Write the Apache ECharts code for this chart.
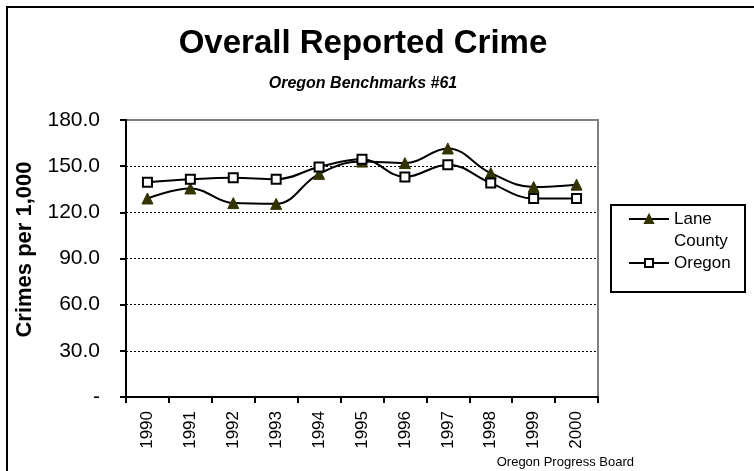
<!DOCTYPE html>
<html>
<head>
<meta charset="utf-8">
<script src="https://cdn.jsdelivr.net/npm/echarts@6/dist/echarts.min.js"></script>
<style>
html,body{margin:0;padding:0;background:#fff;}
#chart{width:754px;height:471px;}
</style>
</head>
<body>
<div id="chart"></div>
<script>
const years = ['1990','1991','1992','1993','1994','1995','1996','1997','1998','1999','2000'];
const laneCounty = [129, 135.5, 126, 125.5, 145, 153, 152, 161.5, 145.5, 136.5, 138];
const oregon = [139.5, 141.5, 142.5, 141.5, 149.5, 154.5, 143, 151, 139, 129, 129];
const yMin = 0, yMax = 180, yStep = 30;
const titleText = 'Overall Reported Crime';
const subtitleText = 'Oregon Benchmarks #61';
const yAxisName = 'Crimes per 1,000';
const sourceText = 'Oregon Progress Board';

const FONT = '"Liberation Sans", Arial, Helvetica, sans-serif';
const chart = echarts.init(document.getElementById('chart'), null, {renderer: 'canvas'});

chart.setOption({
  animation: false,
  backgroundColor: '#ffffff',
  graphic: [
    {type: 'rect', shape: {x: 7, y: 7, width: 800, height: 500},
     style: {fill: 'none', stroke: '#000', lineWidth: 2}, z: 0},
    {type: 'text', x: 363, y: 44, style: {text: titleText, font: 'bold 33px ' + FONT, fill: '#000', textAlign: 'center', textVerticalAlign: 'middle'}},
    {type: 'text', x: 363, y: 84, style: {text: subtitleText, font: 'italic bold 16px ' + FONT, fill: '#000', textAlign: 'center', textVerticalAlign: 'middle'}},
    {type: 'text', x: 634, y: 462, style: {text: sourceText, font: '13px ' + FONT, fill: '#000', textAlign: 'right', textVerticalAlign: 'middle'}},
    {type: 'rect', shape: {x: 611, y: 205, width: 134, height: 87},
     style: {fill: '#fff', stroke: '#000', lineWidth: 2}, z: 1}
  ],
  grid: {
    left: 126, right: 156, top: 120, bottom: 74,
    show: true, backgroundColor: '#fff', borderColor: '#808080', borderWidth: 2
  },
  legend: {
    orient: 'vertical',
    left: 628, top: 186,
    itemWidth: 40, itemHeight: 10, itemGap: 0,
    padding: 0,
    z: 5,
    textStyle: {fontFamily: FONT, fontSize: 17, color: '#000', lineHeight: 22},
    formatter: function (n) { return n === 'Lane County' ? ' \nLane\nCounty' : n; },
    data: ['Lane County', 'Oregon']
  },
  xAxis: {
    type: 'category',
    data: years,
    boundaryGap: true,
    axisLine: {lineStyle: {color: '#000', width: 2}},
    axisTick: {show: true, length: 6, lineStyle: {color: '#000', width: 2}},
    axisLabel: {rotate: 90, margin: 14, fontFamily: FONT, fontSize: 17, color: '#000'},
    splitLine: {show: false}
  },
  yAxis: {
    type: 'value',
    min: yMin, max: yMax, interval: yStep,
    name: yAxisName,
    nameLocation: 'middle',
    nameGap: 90,
    nameTextStyle: {fontFamily: FONT, fontSize: 22, fontWeight: 'bold', color: '#000', padding: [0, 0, 0, 18]},
    axisLine: {show: true, lineStyle: {color: '#000', width: 2}},
    axisTick: {show: true, length: 6, lineStyle: {color: '#000', width: 2}},
    axisLabel: {margin: 26, fontFamily: FONT, fontSize: 21, color: '#000',
      formatter: function (v) { return v === 0 ? '-' : v.toFixed(1); }},
    splitLine: {show: true, showMinLine: false, showMaxLine: false,
      lineStyle: {color: '#000', width: 1, type: [2, 2]}}
  },
  series: [
    {
      name: 'Lane County', type: 'line', data: laneCounty, smooth: 0.4,
      symbol: 'triangle', symbolSize: 11,
      lineStyle: {color: '#000', width: 2},
      itemStyle: {color: '#333300', borderColor: '#333300', borderWidth: 1},
      z: 3
    },
    {
      name: 'Oregon', type: 'line', data: oregon, smooth: 0.4,
      symbol: 'rect', symbolSize: 9,
      lineStyle: {color: '#000', width: 2},
      itemStyle: {color: '#fff', borderColor: '#000', borderWidth: 2},
      z: 4
    }
  ]
});
</script>
</body>
</html>
